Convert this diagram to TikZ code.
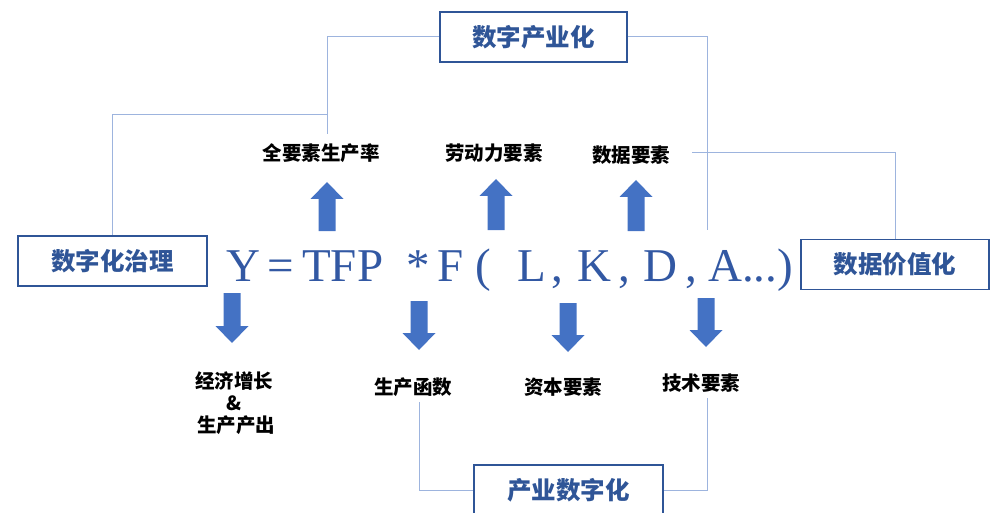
\documentclass[tikz,border=0pt]{standalone}
\usepackage{fontspec}
\setmainfont{Liberation Serif}
\newfontfamily\cjk{Noto Sans CJK SC}
\definecolor{boxblue}{HTML}{2F5597}
\definecolor{eqblue}{HTML}{3258A3}
\definecolor{arrblue}{HTML}{4472C4}
\definecolor{linkblue}{HTML}{9DB4DE}
\tikzset{
  mainbox/.style={draw=boxblue, line width=1.8pt, minimum width=#1, minimum height=50pt,
    inner sep=0pt, text=boxblue, font=\cjk\bfseries\fontsize{24.5}{28}\selectfont},
  lab/.style={inner sep=0pt, text=black, font=\cjk\bfseries\fontsize{19.5}{24}\selectfont},
  eq/.style={inner sep=0pt, anchor=base west, text=eqblue, font=\fontsize{47}{50}\selectfont},
  conn/.style={draw=linkblue, line width=1pt},
  blockarr/.style={fill=arrblue, draw=none}
}
\begin{document}
\begin{tikzpicture}[x=1pt,y=-1pt]
\useasboundingbox (0,0) rectangle (990,513);
\clip (0,0) rectangle (990,513);

% boxes
\node[mainbox=187pt] (szcy) at (533.5,37) {数字产业化};
\node[mainbox=189pt] (szhzl) at (112.5,261) {数字化治理};
\node[mainbox=188pt] (sjjz) at (895,264.5) {数据价值化};
\node[mainbox=189pt] (cysz) at (568.5,490) {产业数字化};

% labels
\node[lab] (tfpl) at (321,153) {全要素生产率};
\node[lab] (ldl) at (494,153) {劳动力要素};
\node[lab] (sjys) at (631,155) {数据要素};
\node[lab,align=center] (jjzz) at (234,403) {经济增长\\[-2pt]\&\\[-2pt]\ 生产产出};
\node[lab] (schs) at (413,387) {生产函数};
\node[lab] (zbys) at (563,387) {资本要素};
\node[lab] (jsys) at (701,383) {技术要素};

% formula
\node[eq] (fY) at (226,281) {Y};
\node[eq] (fEq) at (267,281) {=};
\node[eq] (fTFP) at (302,281) {TFP};
\node[eq] (fStar) at (406,281) {*};
\node[eq] (fF) at (437,281) {F};
\node[eq] (fLp) at (475,281) {(};
\node[eq] (fL) at (517,281) {L};
\node[eq] (fc1) at (551,281) {,};
\node[eq] (fK) at (577,281) {K};
\node[eq] (fc2) at (618,281) {,};
\node[eq] (fD) at (643,281) {D};
\node[eq] (fc3) at (685,281) {,};
\node[eq] (fA) at (708,281) {A...)};

% block arrows up: center x, bottom y, tip y
\foreach \cx/\yb/\yt in {327/231/182, 496/230/179, 636/231/180}{
  \fill[blockarr] (\cx-8.5,\yb) -- (\cx-8.5,\yt+17) -- (\cx-16.5,\yt+17) -- (\cx,\yt)
    -- (\cx+16.5,\yt+17) -- (\cx+8.5,\yt+17) -- (\cx+8.5,\yb) -- cycle;
}
% block arrows down: center x, top y, tip y
\foreach \cx/\yb/\yt in {232/293/343, 419/301/350, 568/303/352, 706/298/347}{
  \fill[blockarr] (\cx-8.5,\yb) -- (\cx-8.5,\yt-17) -- (\cx-16.5,\yt-17) -- (\cx,\yt)
    -- (\cx+16.5,\yt-17) -- (\cx+8.5,\yt-17) -- (\cx+8.5,\yb) -- cycle;
}

% connectors
\coordinate (j1) at (327,115);
\coordinate (e1) at (327,134);
\coordinate (e2) at (707,230);
\coordinate (s3) at (692,153);
\coordinate (s4) at (419,402);
\coordinate (s5) at (707,398);
\draw[conn] (szcy.west) -| (e1);
\draw[conn] (j1) -| (szhzl.north);
\draw[conn] (szcy.east) -| (e2);
\draw[conn] (s3) -| (sjjz.north);
\draw[conn] (s4) |- (cysz.west);
\draw[conn] (s5) |- (cysz.east);
\end{tikzpicture}
\end{document}
